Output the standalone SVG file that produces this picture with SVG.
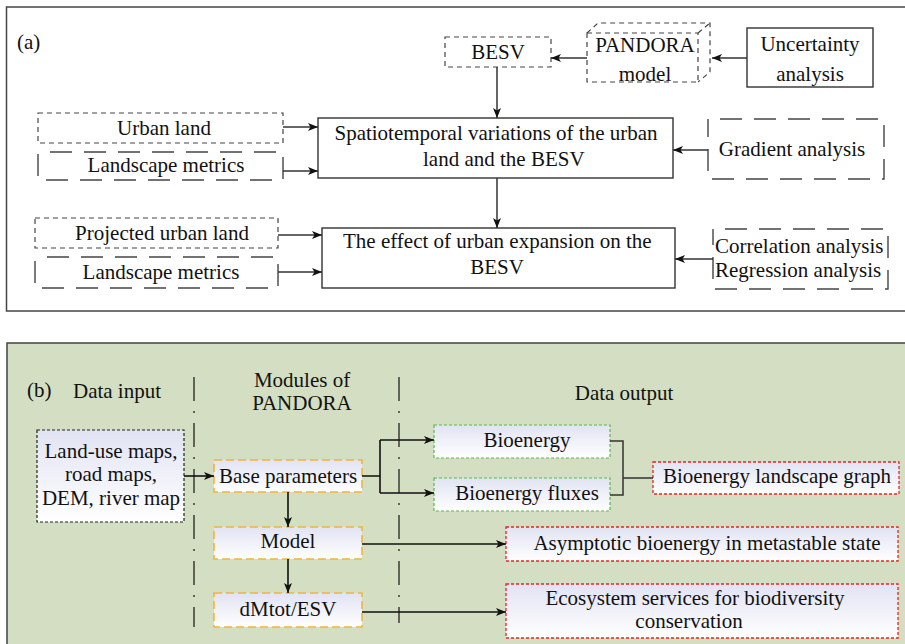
<svg xmlns="http://www.w3.org/2000/svg" width="905" height="644" viewBox="0 0 905 644">
<style>
  text { font-family: "Liberation Serif", "Times New Roman", serif; font-size: 21px; fill: #111; }
  .mid { text-anchor: middle; }
  .sdash { fill: #fff; stroke: #444; stroke-width: 1.2; stroke-dasharray: 5 4; }
  .ldash { fill: #fff; stroke: #444; stroke-width: 1.4; stroke-dasharray: 22 12; stroke-dashoffset: 22; }
  .solid { fill: #fff; stroke: #333; stroke-width: 1.4; }
  .conn { fill: none; stroke: #333; stroke-width: 1.5; }
  .connb { fill: none; stroke: #111; stroke-width: 1.6; }
  .arr { marker-end: url(#ah); }
  .inbox { fill: url(#grad); stroke: #222; stroke-width: 1.2; stroke-dasharray: 3 2; }
  .orange { fill: url(#grad); stroke: #f2b43c; stroke-width: 1.6; stroke-dasharray: 8 4; }
  .green { fill: url(#grad); stroke: #5cb84a; stroke-width: 1.2; stroke-dasharray: 3 2; }
  .red { fill: url(#grad); stroke: #e3262a; stroke-width: 1.3; stroke-dasharray: 3 2; }
  .dashdot { fill: none; stroke: #222; stroke-width: 1.3; stroke-dasharray: 24 10 2 10; }
</style>
<defs>
  <marker id="ah" viewBox="0 0 10 8" refX="10" refY="4" markerWidth="11" markerHeight="8" orient="auto" markerUnits="userSpaceOnUse">
    <path d="M0,0 L10,4 L0,8 L2.5,4 z" fill="#111"/>
  </marker>
  <linearGradient id="grad" x1="0" y1="0" x2="0" y2="1">
    <stop offset="0" stop-color="#e1e3f3"/>
    <stop offset="1" stop-color="#ffffff"/>
  </linearGradient>
</defs>
<rect x="0" y="0" width="905" height="644" fill="#fff"/>

<!-- Panel (a) -->
<g id="panel-a">
  <rect x="6.5" y="7" width="910" height="304" fill="#fff" stroke="#444" stroke-width="1.5"/>
  <text x="17" y="49">(a)</text>
</g>
<g id="node-besv">
  <rect class="sdash" x="445" y="37" width="106" height="30"/>
  <text class="mid" x="498" y="59">BESV</text>
</g>
<g id="node-pandora">
  <path class="sdash" d="M587,33 L598,23 L710,23 L710,72 L698,82 M698,33 L710,23" fill="none"/>
  <rect class="sdash" x="587" y="33" width="111" height="49"/>
  <text class="mid" x="645" y="52">PANDORA</text>
  <text class="mid" x="645" y="81">model</text>
</g>
<g id="node-uncertainty">
  <rect class="solid" x="747" y="28" width="126" height="59"/>
  <text class="mid" x="810" y="51">Uncertainty</text>
  <text class="mid" x="810" y="81">analysis</text>
</g>
<g id="node-spatio">
  <rect class="solid" x="318" y="118" width="355" height="60"/>
  <text class="mid" x="496" y="140">Spatiotemporal variations of the urban</text>
  <text x="423" y="166">land and the BESV</text>
</g>
<g id="node-effect">
  <rect class="solid" x="322" y="228" width="353" height="60"/>
  <text x="343" y="248">The effect of urban expansion on the</text>
  <text class="mid" x="497" y="274">BESV</text>
</g>
<g id="node-urban">
  <rect class="sdash" x="38" y="113" width="245" height="30"/>
  <text class="mid" x="164" y="135">Urban land</text>
</g>
<g id="node-lm1">
  <rect class="ldash" x="38" y="152" width="245" height="28"/>
  <text class="mid" x="166" y="172">Landscape metrics</text>
</g>
<g id="node-proj">
  <rect class="sdash" x="35" y="218" width="243" height="30"/>
  <text class="mid" x="162" y="240">Projected urban land</text>
</g>
<g id="node-lm2">
  <rect class="ldash" x="35" y="257" width="243" height="31"/>
  <text class="mid" x="161" y="279">Landscape metrics</text>
</g>
<g id="node-gradient">
  <rect class="ldash" x="708" y="119" width="176" height="60"/>
  <text class="mid" x="792" y="156">Gradient analysis</text>
</g>
<g id="node-corr">
  <rect class="ldash" x="713" y="229" width="175" height="60"/>
  <text x="715" y="253">Correlation analysis</text>
  <text x="715" y="277">Regression analysis</text>
</g>

<!-- Panel (b) -->
<g id="panel-b">
  <rect x="7" y="343" width="910" height="320" fill="#d3dec3" stroke="#444" stroke-width="1.5"/>
  <text x="27" y="397">(b)</text>
  <text class="mid" x="117" y="398">Data input</text>
  <text class="mid" x="302" y="387">Modules of</text>
  <text class="mid" x="302" y="410">PANDORA</text>
  <text class="mid" x="624" y="400">Data output</text>
  <path class="dashdot" d="M194,377 L194,627 M399,377 L399,623"/>
</g>
<g id="node-input">
  <rect class="inbox" x="37" y="430" width="147" height="92"/>
  <text class="mid" x="111" y="458">Land-use maps,</text>
  <text class="mid" x="111" y="481">road maps,</text>
  <text class="mid" x="111" y="505">DEM, river map</text>
</g>
<g id="node-base">
  <rect class="orange" x="214" y="460" width="148" height="32"/>
  <text class="mid" x="288" y="483">Base parameters</text>
</g>
<g id="node-model">
  <rect class="orange" x="214" y="527" width="148" height="32"/>
  <text class="mid" x="288" y="548">Model</text>
</g>
<g id="node-dmtot">
  <rect class="orange" x="214" y="593" width="148" height="34"/>
  <text class="mid" x="288" y="616">dMtot/ESV</text>
</g>
<g id="node-bio">
  <rect class="green" x="434" y="425" width="176" height="33"/>
  <text class="mid" x="527" y="447">Bioenergy</text>
</g>
<g id="node-biof">
  <rect class="green" x="434" y="478" width="176" height="33"/>
  <text class="mid" x="527" y="500">Bioenergy fluxes</text>
</g>
<g id="node-blg">
  <rect class="red" x="653" y="462" width="246" height="32"/>
  <text class="mid" x="777" y="483">Bioenergy landscape graph</text>
</g>
<g id="node-asym">
  <rect class="red" x="506" y="527" width="392" height="34"/>
  <text class="mid" x="707" y="550">Asymptotic bioenergy in metastable state</text>
</g>
<g id="node-eco">
  <rect class="red" x="506" y="584" width="392" height="54"/>
  <text class="mid" x="695" y="605">Ecosystem services for biodiversity</text>
  <text class="mid" x="689" y="628">conservation</text>
</g>

<g id="connectors">
  <path class="conn arr" d="M587,58 L551,58"/>
  <path class="conn arr" d="M747,58 L712,58"/>
  <path class="conn arr" d="M497,67 L497,118"/>
  <path class="conn arr" d="M283,127 L318,127"/>
  <path class="conn arr" d="M283,171 L318,171"/>
  <path class="conn arr" d="M708,150 L673,150"/>
  <path class="conn arr" d="M497,178 L497,228"/>
  <path class="conn arr" d="M278,235 L322,235"/>
  <path class="conn arr" d="M278,272 L322,272"/>
  <path class="conn arr" d="M713,259 L675,259"/>

  <path class="connb arr" d="M184,476 L214,476"/>
  <path class="connb" d="M362,476 L380,476 M380,440 L380,493"/>
  <path class="connb arr" d="M380,440 L434,440"/>
  <path class="connb arr" d="M380,493 L434,493"/>
  <path class="conn" d="M610,441 L623,441 L623,495 L610,495 M623,478 L653,478"/>
  <path class="connb arr" d="M288,492 L288,527"/>
  <path class="connb arr" d="M288,559 L288,593"/>
  <path class="connb arr" d="M362,544 L506,544"/>
  <path class="connb arr" d="M362,612 L506,612"/>
</g>
</svg>
